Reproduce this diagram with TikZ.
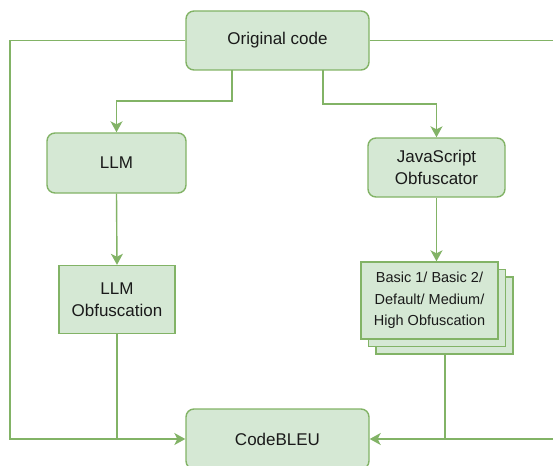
\documentclass[tikz,border=0pt]{standalone}
\usepackage{fontspec}
\setmainfont{Liberation Sans}
\usetikzlibrary{arrows.meta,positioning}
\definecolor{gfill}{HTML}{D5E8D4}
\definecolor{gline}{HTML}{82B366}
\definecolor{txt}{HTML}{1A1A1A}
\tikzset{
  box/.style={draw=gline,fill=gfill,line width=1.4pt,inner sep=0pt,align=center,text=txt,
    font=\fontsize{17}{22}\selectfont},
  rbox/.style={box,rounded corners=8pt},
  sbox/.style={box,font=\fontsize{14.5}{21.5}\selectfont},
  conn/.style={draw=gline,line width=1.4pt},
  arr/.style={conn,-{Stealth[length=11pt,width=12pt,inset=3pt]}},
}
\begin{document}
\begin{tikzpicture}[x=1pt,y=-1pt]
\useasboundingbox (0,0) rectangle (553,465);
% boxes
\node[rbox,minimum width=183pt,minimum height=59pt] (orig) at (277.5,40.5) {Original code};
\node[rbox,minimum width=139pt,minimum height=60pt] (llm) at (116.5,163) {LLM};
\node[rbox,minimum width=137pt,minimum height=59pt] (js) at (436.5,167.5) {JavaScript\\Obfuscator};
\node[box,minimum width=116pt,minimum height=68pt] (lobf) at (117,299.5) {LLM\\Obfuscation};
\node[box,minimum width=137pt,minimum height=77pt] (st3) at (444.5,315.5) {};
\node[box,minimum width=137pt,minimum height=77pt] (st2) at (437,308) {};
\node[sbox,minimum width=137pt,minimum height=77pt] (st1) at (429.5,300.5) {Basic 1/ Basic 2/\\Default/ Medium/\\High Obfuscation};
\node[rbox,minimum width=183pt,minimum height=60pt] (cb) at (277.5,439) {CodeBLEU};
% helper coordinates
\coordinate (lt) at (10,40.5);
\coordinate (lb) at (10,439);
\coordinate (rt) at (570,40.5);
\coordinate (rb) at (570,439);
\coordinate (o1) at (232,70);
\coordinate (o1b) at (232,101);
\coordinate (o2) at (323,70);
\coordinate (o2b) at (323,104);
\coordinate (lj) at (117,439);
\coordinate (sj) at (445,439);
\coordinate (stb) at (445,354);
% connectors
\draw[arr] (orig.west) -- (lt) -- (lb) -- (cb.west);
\draw[conn] (orig.east) -- (rt);
\draw[arr] (rb) -- (cb.east);
\draw[arr] (o1) -- (o1b) -| (llm.north);
\draw[arr] (o2) -- (o2b) -| (js.north);
\draw[arr] (llm.south) -- (lobf.north);
\draw[arr] (js.south) -- (js.south |- st1.north);
\draw[conn] (lobf.south) -- (lj);
\draw[conn] (stb) -- (sj);
\end{tikzpicture}
\end{document}
